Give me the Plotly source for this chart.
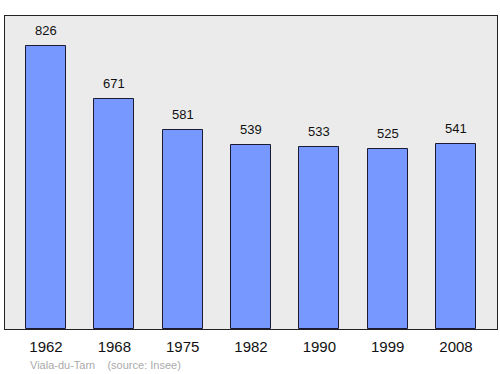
import plotly.graph_objects as go

years = ["1962", "1968", "1975", "1982", "1990", "1999", "2008"]
population = [826, 671, 581, 539, 533, 525, 541]
commune = "Viala-du-Tarn"
source = "(source: Insee)"

fig = go.Figure()
fig.add_trace(go.Bar(
    x=list(range(len(years))), y=population,
    width=0.586,
    marker=dict(color="#7799ff", line=dict(color="#1a1a33", width=1)),
    hoverinfo="skip",
))

for i, v in enumerate(population):
    fig.add_annotation(x=i, y=v, text=str(v), showarrow=False,
                       yanchor="bottom", yshift=6,
                       font=dict(family="Liberation Sans, Arial, sans-serif", size=13, color="#111"))

fig.add_annotation(xref="paper", yref="paper", x=0.046, y=-0.09, xanchor="left", yanchor="top",
                   text=commune + "&nbsp;&nbsp;&nbsp;&nbsp;" + source, showarrow=False,
                   font=dict(family="Liberation Sans, Arial, sans-serif", size=11, color="#aaaaaa"))

fig.update_layout(
    width=500, height=374,
    margin=dict(l=5, r=3, t=16, b=45),
    paper_bgcolor="white", plot_bgcolor="#ebebeb",
    showlegend=False,
    bargap=0,
    xaxis=dict(range=[-0.6, 6.6], tickmode="array", tickvals=list(range(len(years))), ticktext=years,
               showline=True, mirror=True, linecolor="#222", linewidth=1.3, showgrid=False,
               ticks="outside", ticklen=4, tickcolor="rgba(0,0,0,0)",
               zeroline=False,
               tickfont=dict(family="Liberation Sans, Arial, sans-serif", size=15, color="#111")),
    yaxis=dict(range=[0, 915], showline=True, mirror=True, linecolor="#222", linewidth=1.3,
               showgrid=False, showticklabels=False, ticks="", zeroline=False),
)

fig.write_html("out.html")
